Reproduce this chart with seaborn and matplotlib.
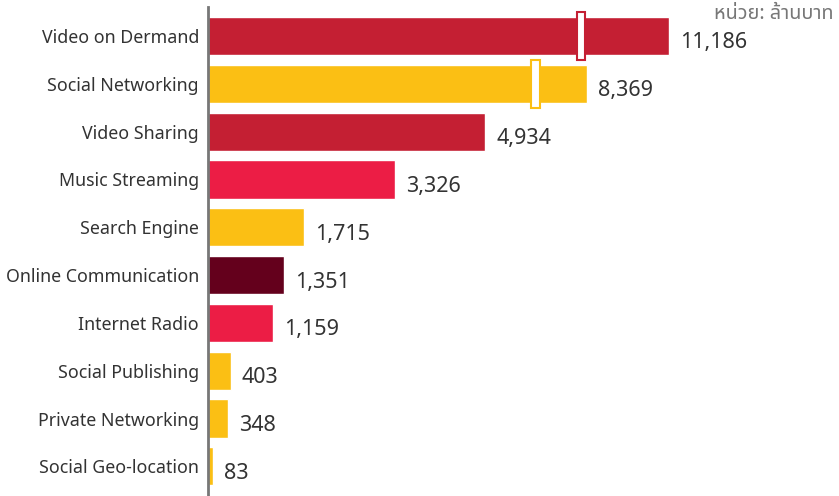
import numpy as np
import pandas as pd
import matplotlib
matplotlib.use("Agg")
import matplotlib.pyplot as plt
import seaborn as sns
from matplotlib import font_manager
from matplotlib.patches import Rectangle

categories = ["Video on Dermand", "Social Networking", "Video Sharing", "Music Streaming",
              "Search Engine", "Online Communication", "Internet Radio", "Social Publishing",
              "Private Networking", "Social Geo-location"]
values = [11186, 8369, 4934, 3326, 1715, 1351, 1159, 403, 348, 83]
colors = ["#C41F33", "#FBBF14", "#C41F33", "#EC1D45", "#FBBF14",
          "#64001C", "#EC1D45", "#FBBF14", "#FBBF14", "#FBBF14"]
# where the "axis break" symbols sit on the two long bars (data units)
break_marks = {0: 8150, 1: 6600}
unit_text = "หน่วย: ล้านบาท"

# compressed scale above BREAK so the long bars fit
BREAK = 5000
SQUEEZE = 0.52


def fwd(x):
    x = np.asarray(x, dtype=float)
    return np.where(x <= BREAK, x, BREAK + (x - BREAK) * SQUEEZE)


def inv(x):
    x = np.asarray(x, dtype=float)
    return np.where(x <= BREAK, x, BREAK + (x - BREAK) / SQUEEZE)


sns.set_style("white")
installed = {f.name for f in font_manager.fontManager.ttflist}
thai = [n for n in ["Noto Sans Thai", "Noto Sans Thai UI", "Loma", "Garuda", "Norasi",
                    "Tlwg Typo", "Kinnari", "Sawasdee", "Umpush", "Waree", "Laksaman",
                    "FreeSans", "Tahoma", "Leelawadee UI"] if n in installed]
base = "Noto Sans" if "Noto Sans" in installed else "DejaVu Sans"
plt.rcParams["font.family"] = [base] + thai + ["DejaVu Sans"]

df = pd.DataFrame({"category": categories, "value": values})

fig = plt.figure(figsize=(8.39, 4.96), dpi=100)
ax = fig.add_axes([208 / 839, 0, 1 - 208 / 839, 489 / 496])
ax.set_xscale("function", functions=(fwd, inv))

sns.barplot(data=df, x="value", y="category", hue="category", palette=colors,
            legend=False, width=0.8, saturation=1, ax=ax)

ax.set_xlim(0, 17000)
ax.set_ylim(9.62, -0.607)
ax.set_xlabel("")
ax.set_ylabel("")
ax.set_xticks([])
for s in ["top", "right", "bottom"]:
    ax.spines[s].set_visible(False)
ax.spines["left"].set_color("#777777")
ax.spines["left"].set_linewidth(2)
ax.tick_params(axis="y", length=0, pad=6.5, labelsize=12.8, labelcolor="#333333")

for i, v in enumerate(values):
    ax.annotate(f"{v:,}", xy=(v, i), xytext=(8, -5), textcoords="offset points",
                ha="left", va="center", fontsize=15.5, color="#333333")

for i, pos in break_marks.items():
    xc = fwd(pos)
    w = 0.013 * (fwd(17000))
    ax.add_patch(Rectangle((inv(xc - w / 2), i - 0.5), inv(xc + w / 2) - inv(xc - w / 2), 1.0,
                           facecolor="white", edgecolor=colors[i], linewidth=1.5, zorder=5))

fig.text(0.993, 1 - 19 / 496, unit_text, ha="right", va="baseline", fontsize=14.3,
         color="#777777")

fig.savefig("out.png", dpi=100)
